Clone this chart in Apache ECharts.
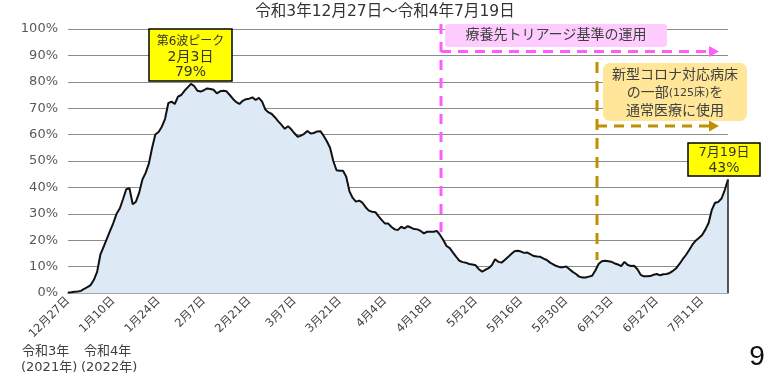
<!DOCTYPE html>
<html>
<head>
<meta charset="utf-8">
<script src="https://cdn.jsdelivr.net/npm/echarts@6/dist/echarts.min.js"></script>
<style>
html, body { margin: 0; padding: 0; background: #fff; }
#chart { width: 772px; height: 377px; }
</style>
</head>
<body>
<div id="chart"></div>
<script>
// 病床使用率(%)  令和3年12月27日 ～ 令和4年7月19日, one value per day
const occupancy = [
  0.2, 0.3, 0.5, 0.6, 0.8, 1.6, 2.2, 3.0, 5.0, 8.0,
  14.5, 17.5, 20.5, 23.5, 26.5, 30.0, 32.0, 35.5, 39.3, 39.7,
  33.6, 34.6, 38.0, 43.0, 45.5, 49.0, 55.0, 60.0, 61.0, 63.0,
  66.0, 71.9, 72.5, 71.6, 74.4, 75.0, 76.6, 77.9, 79.2, 78.4,
  76.6, 76.3, 76.8, 77.5, 77.3, 77.0, 75.6, 76.4, 76.6, 76.4,
  75.0, 73.5, 72.3, 71.6, 72.8, 73.4, 73.6, 74.1, 73.1, 73.9,
  72.5, 69.5, 68.4, 67.8, 66.5, 65.0, 63.7, 62.2, 63.2, 62.0,
  60.5, 59.2, 59.6, 60.3, 61.4, 60.4, 60.6, 61.2, 61.3, 59.6,
  57.5, 55.0, 50.0, 46.5, 46.3, 46.3, 44.0, 38.5, 36.0, 34.6,
  35.0, 34.2, 32.5, 31.2, 30.8, 30.6, 29.0, 27.6, 26.3, 26.3,
  25.0, 24.1, 23.9, 25.1, 24.5, 25.3, 24.8, 24.2, 24.1, 23.5,
  22.6, 23.2, 23.2, 23.2, 23.5, 22.0, 20.1, 17.8, 17.0, 15.3,
  13.7, 12.2, 11.7, 11.5, 11.0, 10.8, 10.5, 9.0, 8.1, 8.8,
  9.4, 10.5, 12.8, 11.8, 11.5, 12.5, 13.6, 14.8, 15.8, 16.0,
  15.7, 15.2, 15.3, 14.6, 14.0, 13.8, 13.7, 13.0, 12.5, 11.5,
  10.8, 10.2, 9.8, 9.8, 10.0, 9.0, 8.0, 7.2, 6.2, 5.9,
  5.9, 6.2, 6.5, 8.5, 11.0, 12.0, 12.2, 12.0, 11.8, 11.2,
  10.8, 10.2, 11.8, 10.6, 10.2, 10.3, 9.0, 6.9, 6.3, 6.3,
  6.4, 6.9, 7.2, 6.7, 7.1, 7.2, 7.6, 8.4, 9.4, 11.0,
  12.8, 14.4, 16.3, 18.3, 19.8, 20.8, 22.0, 24.0, 26.5, 31.5,
  34.2, 34.5, 35.8, 39.0, 43.0
];

// x tick labels, every 14 days from 12/27
const tickLabels = [
  '12月27日', '1月10日', '1月24日', '2月7日', '2月21日', '3月7日', '3月21日', '4月4日',
  '4月18日', '5月2日', '5月16日', '5月30日', '6月13日', '6月27日', '7月11日'
];
const tickStep = 14;

const titleText = '令和3年12月27日～令和4年7月19日';
const peakLines = ['第6波ピーク', '2月3日', '79%'];
const lastLines = ['7月19日', '43%'];
const triageText = '療養先トリアージ基準の運用';
const bedLines = ['新型コロナ対応病床', 'の一部{s|(125床)}を', '通常医療に使用'];
const eraNotes = [['令和3年', '(2021年)'], ['令和4年', '(2022年)']];

const FONT = "'DejaVu Sans','Noto Sans CJK JP'";
const lastIdx = occupancy.length - 1;

const chart = echarts.init(document.getElementById('chart'));

function txt(x, y, text, size, color, extra) {
  return {
    type: 'text', x: x, y: y, z: 20,
    style: Object.assign({
      text: text, fontSize: size, fontFamily: FONT, fill: color || '#404040',
      align: 'center', verticalAlign: 'middle'
    }, extra || {})
  };
}

const graphics = [
  txt(385, 12, titleText, 15.5, '#333'),
  // 第6波ピーク box
  { type: 'rect', z: 19, shape: { x: 149, y: 29, width: 83, height: 52 },
    style: { fill: '#ffff00', stroke: '#000', lineWidth: 1.5 } },
  txt(190.5, 41.5, peakLines[0], 12, '#333'),
  txt(190.5, 57, peakLines[1], 14, '#333'),
  txt(190.5, 72.5, peakLines[2], 14, '#333'),
  // 7月19日 box
  { type: 'rect', z: 19, shape: { x: 688, y: 143, width: 72, height: 33 },
    style: { fill: '#ffff00', stroke: '#000', lineWidth: 1.5 } },
  txt(724, 152.5, lastLines[0], 13, '#333'),
  txt(724, 168.5, lastLines[1], 14, '#333'),
  // pink triage annotation
  { type: 'line', z: 18, shape: { x1: 441, y1: 24, x2: 441, y2: 232 },
    style: { stroke: '#ff5cff', lineWidth: 3, lineDash: [10, 8] } },
  { type: 'line', z: 18, shape: { x1: 441, y1: 51.5, x2: 711, y2: 51.5 },
    style: { stroke: '#ff5cff', lineWidth: 3, lineDash: [10, 7] } },
  { type: 'polygon', z: 18, shape: { points: [[709, 46], [719, 51.5], [709, 57]] },
    style: { fill: '#ff5cff' } },
  { type: 'rect', z: 19, shape: { x: 445, y: 24, width: 222, height: 23, r: 3 },
    style: { fill: '#ffccff' } },
  txt(556, 35.5, triageText, 14),
  // gold bed annotation
  { type: 'line', z: 18, shape: { x1: 597, y1: 62, x2: 597, y2: 260 },
    style: { stroke: '#bf9000', lineWidth: 3, lineDash: [11, 8] } },
  { type: 'line', z: 18, shape: { x1: 597, y1: 126, x2: 711, y2: 126 },
    style: { stroke: '#bf9000', lineWidth: 3, lineDash: [10, 7] } },
  { type: 'polygon', z: 18, shape: { points: [[709, 120.5], [719, 126], [709, 131.5]] },
    style: { fill: '#bf9000' } },
  { type: 'rect', z: 19, shape: { x: 603, y: 63, width: 144, height: 58, r: 7 },
    style: { fill: '#ffe699' } },
  txt(675, 75, bedLines[0], 14),
  txt(675, 93.5, bedLines[1], 14, '#404040', { rich: { s: { fontSize: 11, fontFamily: FONT, fill: '#404040' } } }),
  txt(675, 111.5, bedLines[2], 14),
  // era notes
  txt(22, 352, eraNotes[0][0], 13, '#404040', { align: 'left' }),
  txt(21, 368, eraNotes[0][1], 13, '#404040', { align: 'left' }),
  txt(84, 352, eraNotes[1][0], 13, '#404040', { align: 'left' }),
  txt(81, 368, eraNotes[1][1], 13, '#404040', { align: 'left' }),
  // page number
  { type: 'text', x: 757, y: 357, z: 20,
    style: { text: '9', fontSize: 28, fontFamily: 'Liberation Sans', fill: '#111',
      align: 'center', verticalAlign: 'middle' } }
];

const option = {
  animation: false,
  grid: { left: 68, right: 44, top: 29, bottom: 84 },
  xAxis: {
    type: 'value',
    min: 0,
    max: lastIdx,
    interval: tickStep,
    axisLine: { show: true, lineStyle: { color: '#a6a6a6', width: 2 } },
    axisTick: { show: false },
    splitLine: { show: false },
    axisLabel: {
      rotate: 45,
      margin: 6,
      fontSize: 11.5,
      fontFamily: FONT,
      color: '#404040',
      showMaxLabel: false,
      formatter: function (v) {
        return v % tickStep === 0 ? (tickLabels[v / tickStep] || '') : '';
      }
    }
  },
  yAxis: {
    type: 'value',
    min: 0,
    max: 100,
    interval: 10,
    axisLine: { show: false },
    axisTick: { show: false },
    splitLine: { lineStyle: { color: '#8c8c8c', width: 1 } },
    axisLabel: {
      formatter: '{value}%',
      margin: 10,
      fontSize: 13,
      fontFamily: 'DejaVu Sans',
      color: '#595959'
    }
  },
  series: [{
    type: 'line',
    data: occupancy.map(function (v, i) { return [i, v]; }),
    showSymbol: false,
    symbol: 'none',
    lineStyle: { color: '#111', width: 2 },
    areaStyle: { color: '#dde9f5', opacity: 1 },
    markLine: {
      silent: true,
      symbol: 'none',
      label: { show: false },
      lineStyle: { color: '#222', width: 1.5, type: 'solid' },
      data: [[{ coord: [lastIdx, 0] }, { coord: [lastIdx, occupancy[lastIdx]] }]]
    }
  }],
  graphic: graphics
};

chart.setOption(option);
</script>
</body>
</html>
